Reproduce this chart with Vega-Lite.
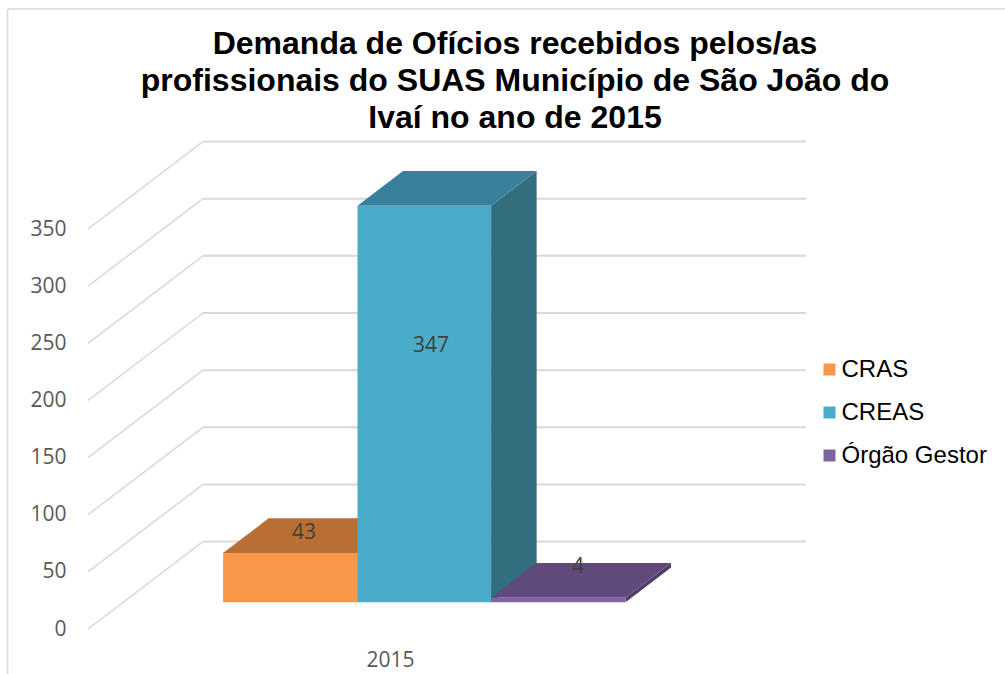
{
"$schema":"https://vega.github.io/schema/vega-lite/v6.json",
"width":718,"height":487,
"autosize":{"type":"none"},
"padding":{"left":88,"top":142,"right":199,"bottom":45},
"background":"white",
"view":{"stroke":null},
"config":{"axis":{"grid":false,"ticks":false,"domain":false,"labelFont":"Open Sans","labelFontSize":21,"labelColor":"#595959"}},
"title":{"text":["Demanda de Ofícios recebidos pelos/as","profissionais do SUAS Município de São João do","Ivaí no ano de 2015"],"font":"Liberation Sans","fontWeight":"bold","fontSize":32,"lineHeight":37,"color":"#000000","anchor":"middle","frame":"group","dx":68,"offset":-127},
"datasets":{
"grid":[{"front":0,"back":76.5},{"front":50,"back":126.5},{"front":100,"back":176.5},{"front":150,"back":226.5},{"front":200,"back":276.5},{"front":250,"back":326.5},{"front":300,"back":376.5},{"front":350,"back":426.5}],
"frontFaces":[{"series":"CRAS","value":43,"left":2013.754,"right":2014.757,"base":23.4,"top":66.4},{"series":"CREAS","value":347,"left":2014.757,"right":2015.754,"base":23.4,"top":370.4},{"series":"Órgão Gestor","value":4,"left":2015.754,"right":2016.757,"base":23.4,"top":27.4}],
"topFaces":[
{"series":"CRAS","x":2013.754,"low":66.4,"high":66.4},{"series":"CRAS","x":2014.094,"low":66.4,"high":96.8},{"series":"CRAS","x":2014.757,"low":66.4,"high":96.8},{"series":"CRAS","x":2015.097,"low":96.8,"high":96.8},
{"series":"CREAS","x":2014.757,"low":370.4,"high":370.4},{"series":"CREAS","x":2015.097,"low":370.4,"high":400.8},{"series":"CREAS","x":2015.754,"low":370.4,"high":400.8},{"series":"CREAS","x":2016.094,"low":400.8,"high":400.8},
{"series":"Órgão Gestor","x":2015.754,"low":27.4,"high":27.4},{"series":"Órgão Gestor","x":2016.094,"low":27.4,"high":57.8},{"series":"Órgão Gestor","x":2016.757,"low":27.4,"high":57.8},{"series":"Órgão Gestor","x":2017.097,"low":57.8,"high":57.8}],
"sideFaces":[
{"series":"CRAS","x":2014.757,"low":23.4,"high":66.4},{"series":"CRAS","x":2015.097,"low":53.8,"high":96.8},
{"series":"CREAS","x":2015.754,"low":23.4,"high":370.4},{"series":"CREAS","x":2016.094,"low":53.8,"high":400.8},
{"series":"Órgão Gestor","x":2016.757,"low":23.4,"high":27.4},{"series":"Órgão Gestor","x":2017.097,"low":53.8,"high":57.8}],
"labels":[{"series":"CRAS","value":43,"x":2014.358,"y":84},{"series":"CREAS","value":347,"x":2015.306,"y":247.6},{"series":"Órgão Gestor","value":4,"x":2016.403,"y":54.2}],
"frameTop":[{"y":542.5}],
"frameLeft":[{"x":2012.146}]
},
"layer":[
{"data":{"name":"frameTop"},"mark":{"type":"rule","color":"#d9d9d9","strokeWidth":1.5,"clip":false},
 "encoding":{"y":{"field":"y","type":"quantitative","scale":{"domain":[0,426.125],"nice":false,"zero":false},"axis":{"title":null,"values":[0,50,100,150,200,250,300,350],"labelPadding":22}},
  "x":{"datum":2012.146,"type":"quantitative","scale":{"domain":[2012.746,2018.104],"nice":false,"zero":false},"axis":{"title":null,"values":[2015],"format":"d","labelPadding":20}},
  "x2":{"datum":2019.6}}},
{"data":{"name":"frameLeft"},"mark":{"type":"rule","color":"#d9d9d9","strokeWidth":1.5,"clip":false},
 "encoding":{"x":{"field":"x","type":"quantitative"},"y":{"datum":-40,"type":"quantitative"},"y2":{"datum":542.5}}},
{"data":{"name":"grid"},"mark":{"type":"rule","color":"#d9d9d9","strokeWidth":1.5},
 "encoding":{"x":{"datum":2012.746,"type":"quantitative"},"x2":{"datum":2013.604},"y":{"field":"front","type":"quantitative"},"y2":{"field":"back"}}},
{"data":{"name":"grid"},"mark":{"type":"rule","color":"#d9d9d9","strokeWidth":2},
 "encoding":{"x":{"datum":2013.604,"type":"quantitative"},"x2":{"datum":2018.104},"y":{"field":"back","type":"quantitative"}}},
{"data":{"name":"sideFaces"},"mark":{"type":"area","orient":"vertical","opacity":1},
 "encoding":{"x":{"field":"x","type":"quantitative"},"y":{"field":"low","type":"quantitative","stack":null},"y2":{"field":"high"},
  "color":{"field":"series","type":"nominal","legend":null,"scale":{"domain":["CRAS","CREAS","Órgão Gestor"],"range":["#a5632e","#326e7e","#4f3c68"]}}}},
{"data":{"name":"topFaces"},"mark":{"type":"area","orient":"vertical","opacity":1},
 "encoding":{"x":{"field":"x","type":"quantitative"},"y":{"field":"low","type":"quantitative","stack":null},"y2":{"field":"high"},
  "color":{"field":"series","type":"nominal","legend":null,"scale":{"domain":["CRAS","CREAS","Órgão Gestor"],"range":["#b96f33","#39819a","#604a7b"]}}}},
{"data":{"name":"frontFaces"},"mark":{"type":"rect","opacity":1},
 "encoding":{"x":{"field":"left","type":"quantitative"},"x2":{"field":"right"},"y":{"field":"base","type":"quantitative"},"y2":{"field":"top"},
  "color":{"field":"series","type":"nominal","scale":{"domain":["CRAS","CREAS","Órgão Gestor"],"range":["#f99647","#4aacc8","#8064a2"]},
   "legend":{"title":null,"orient":"none","legendX":729.5,"legendY":215.5,"symbolType":"square","symbolSize":144,"symbolStrokeWidth":0,"symbolOpacity":1,"labelFont":"Liberation Sans","labelFontSize":24,"labelColor":"#000000","labelOffset":0,"rowPadding":19,"labelLimit":200}}}},
{"data":{"name":"labels"},"mark":{"type":"text","font":"Open Sans","fontSize":21,"color":"#404040","align":"center","baseline":"middle"},
 "encoding":{"x":{"field":"x","type":"quantitative"},"y":{"field":"y","type":"quantitative"},"text":{"field":"value","type":"quantitative"}}}
],
"resolve":{"scale":{"color":"independent"}}
}
